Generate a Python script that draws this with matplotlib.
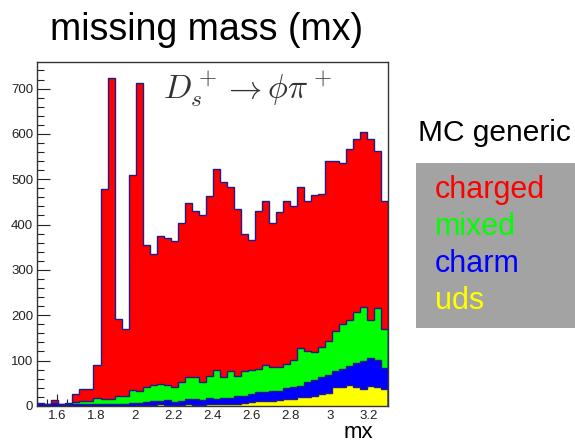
import numpy as np
import matplotlib
matplotlib.use('Agg')
import matplotlib.pyplot as plt
from matplotlib.patches import Rectangle
from matplotlib.ticker import MultipleLocator

plt.rcParams['font.family'] = ['Liberation Sans', 'DejaVu Sans']
plt.rcParams['mathtext.fontset'] = 'cm'

# 50 bins of mx between 1.5 and 3.3
mx_lo, mx_hi, nbins = 1.5, 3.3, 50

# counts per bin for every MC component
charged = [3, 1, 6, 1, 2, 18, 28, 27, 74, 464,
           708, 170, 148, 474, 681, 313, 288, 326, 324, 321,
           351, 385, 367, 370, 397, 443, 430, 405, 369, 303,
           286, 350, 360, 317, 342, 360, 341, 356, 331, 347,
           339, 396, 374, 355, 376, 380, 385, 398, 348, 282]
mixed = [0, 1, 1, 2, 3, 5, 6, 7, 12, 10,
         10, 17, 17, 29, 26, 33, 35, 39, 34, 33,
         41, 48, 49, 40, 49, 64, 45, 59, 44, 55,
         52, 51, 61, 54, 53, 52, 59, 83, 70, 61,
         66, 75, 90, 100, 102, 114, 119, 85, 114, 87]
charm = [3, 2, 6, 2, 2, 3, 4, 4, 5, 5,
         5, 5, 5, 6, 5, 8, 9, 6, 10, 7,
         9, 12, 12, 10, 13, 10, 13, 15, 18, 16,
         19, 20, 20, 22, 21, 25, 27, 24, 32, 35,
         37, 40, 35, 39, 42, 52, 63, 61, 60, 46]
uds = [0, 0, 0, 0, 0, 0, 0, 0, 0, 0,
       0, 0, 0, 0, 1, 1, 2, 4, 2, 2,
       2, 3, 2, 2, 4, 5, 5, 3, 4, 6,
       8, 10, 10, 10, 12, 15, 15, 20, 20, 22,
       26, 29, 41, 42, 46, 42, 37, 44, 41, 37]

names = ['charged', 'mixed', 'charm', 'uds']
colors = ['#ff0000', '#00ff00', '#0000ff', '#ffff00']

edges = np.linspace(mx_lo, mx_hi, nbins + 1)

fig = plt.figure(figsize=(5.75, 4.45), dpi=100)
ax = fig.add_axes([0.065, 0.088, 0.61, 0.773])

# stack: uds at the bottom, charged on top
stack = [np.array(uds), np.array(charm), np.array(mixed), np.array(charged)]
tops = np.cumsum(stack, axis=0)
fill_cols = colors[::-1]
for top, col in reversed(list(zip(tops, fill_cols))):
    ax.stairs(top, edges, fill=True, color=col, zorder=2)
    ax.stairs(top, edges, fill=False, color='#1c1c8c', lw=1.0, zorder=3)

ax.set_xlim(mx_lo, mx_hi)
ax.set_ylim(0, 759)
ax.xaxis.set_major_locator(MultipleLocator(0.2))
ax.xaxis.set_minor_locator(MultipleLocator(0.05))
ax.yaxis.set_major_locator(MultipleLocator(100))
ax.yaxis.set_minor_locator(MultipleLocator(20))
ax.set_xticks(np.arange(1.6, 3.25, 0.2))
ax.set_xticklabels(['1.6', '1.8', '2', '2.2', '2.4', '2.6', '2.8', '3', '3.2'])
ax.tick_params(which='both', direction='in', top=False, right=False,
               labelsize=9.5, colors='#222222', pad=3)
ax.tick_params(which='major', length=9, width=0.8)
ax.tick_params(which='minor', length=5, width=0.8)
for s in ax.spines.values():
    s.set_color('#333333')
    s.set_linewidth(1.0)

ax.text(0.60, 0.92, r'$D_s^+ \rightarrow \phi\pi^+$', transform=ax.transAxes,
        ha='center', va='center', fontsize=24, color='#333333')

fig.text(373 / 575, 1 - 432 / 445, 'mx', ha='right', va='center', fontsize=16)
fig.text(207 / 575, 1 - 30 / 445, 'missing mass (mx)', ha='center', va='center',
         fontsize=27)

# legend panel
fig.text(418 / 575, 1 - 133 / 445, 'MC generic', ha='left', va='center', fontsize=21.5)
fig.add_artist(Rectangle((416 / 575, 1 - 328 / 445), 159 / 575, 165 / 445,
                         transform=fig.transFigure, facecolor='#a3a3a3',
                         edgecolor='none'))
for i, (n, c) in enumerate(zip(names, colors)):
    fig.text(435 / 575, 1 - (190 + 37 * i) / 445, n, color=c, ha='left',
             va='center', fontsize=22)

fig.savefig('out.png', dpi=100)
